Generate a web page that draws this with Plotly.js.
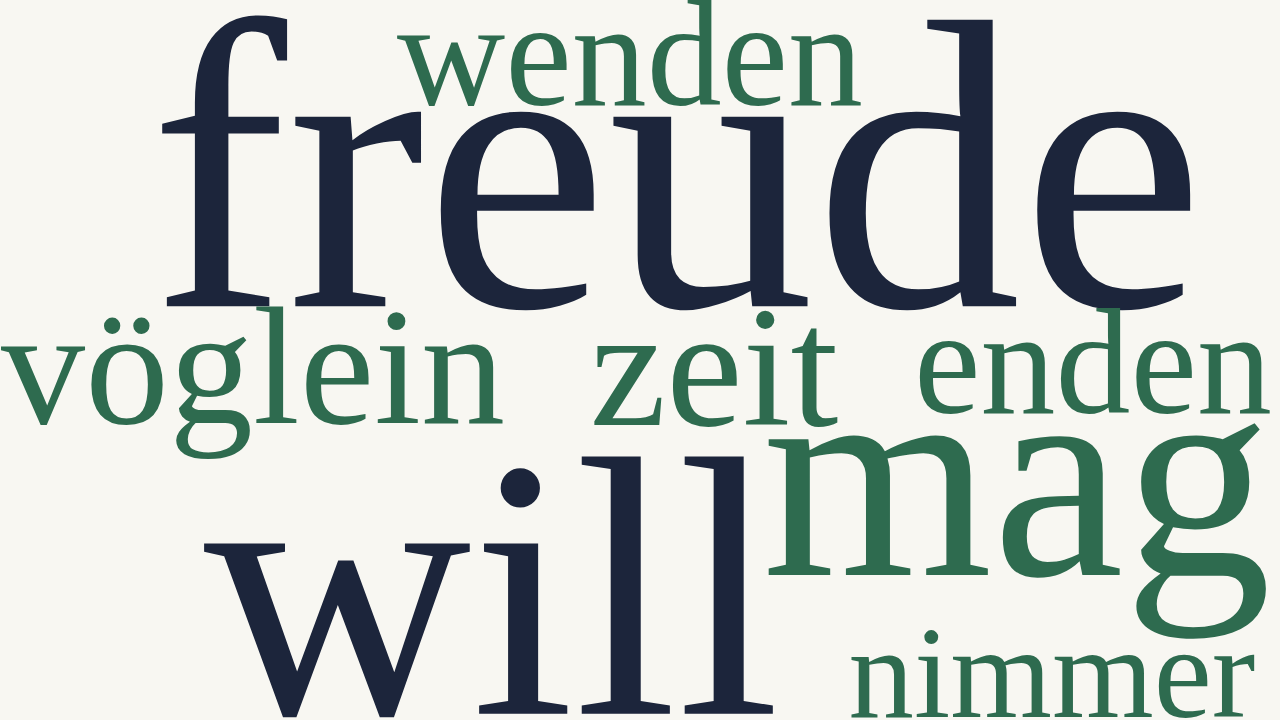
<!DOCTYPE html>
<html>
<head>
<meta charset="utf-8">
<script src="https://cdn.plot.ly/plotly-3.0.1.min.js"></script>
<style>
  html, body { margin: 0; padding: 0; background: #f8f7f2; }
  #cloud { width: 1280px; height: 720px; }
</style>
</head>
<body>
<div id="cloud"></div>
<script>
/* ---------- word data ---------- */
const words   = ["freude", "will", "mag", "zeit", "vöglein", "enden", "wenden", "nimmer"];
const weights = [102, 91.5, 73, 42.5, 41.5, 37, 37, 32.3];

/* ---------- placement (px from top-left) ---------- */
const placeX = [677, 492, 1017, 714, 253, 1093, 630, 1052];
const placeY = [203, 621, 501, 382, 381, 376, 68, 684];

const NAVY = "#1c253b";
const GREEN = "#2e6b4f";
const SIZE_PER_WEIGHT = 4.05;

// the two heaviest words get the dark colour
const sizes = weights.map((w) => w * SIZE_PER_WEIGHT);
const colors = weights.map((w) => (w >= 90 ? NAVY : GREEN));

const trace = {
  type: "scatter",
  mode: "text",
  x: placeX,
  y: placeY,
  text: words,
  textposition: "middle center",
  textfont: {
    family: "Liberation Serif, Times New Roman, serif",
    size: sizes,
    color: colors,
  },
  hoverinfo: "text",
  cliponaxis: false,
};

const hidden = {
  visible: false,
  showgrid: false,
  zeroline: false,
  fixedrange: true,
};

Plotly.newPlot(
  "cloud",
  [trace],
  {
    width: 1280,
    height: 720,
    margin: { l: 0, r: 0, t: 0, b: 0 },
    paper_bgcolor: "#f8f7f2",
    plot_bgcolor: "#f8f7f2",
    showlegend: false,
    xaxis: Object.assign({ range: [0, 1280] }, hidden),
    yaxis: Object.assign({ range: [720, 0] }, hidden),
  },
  { displayModeBar: false, staticPlot: true }
);
</script>
</body>
</html>
